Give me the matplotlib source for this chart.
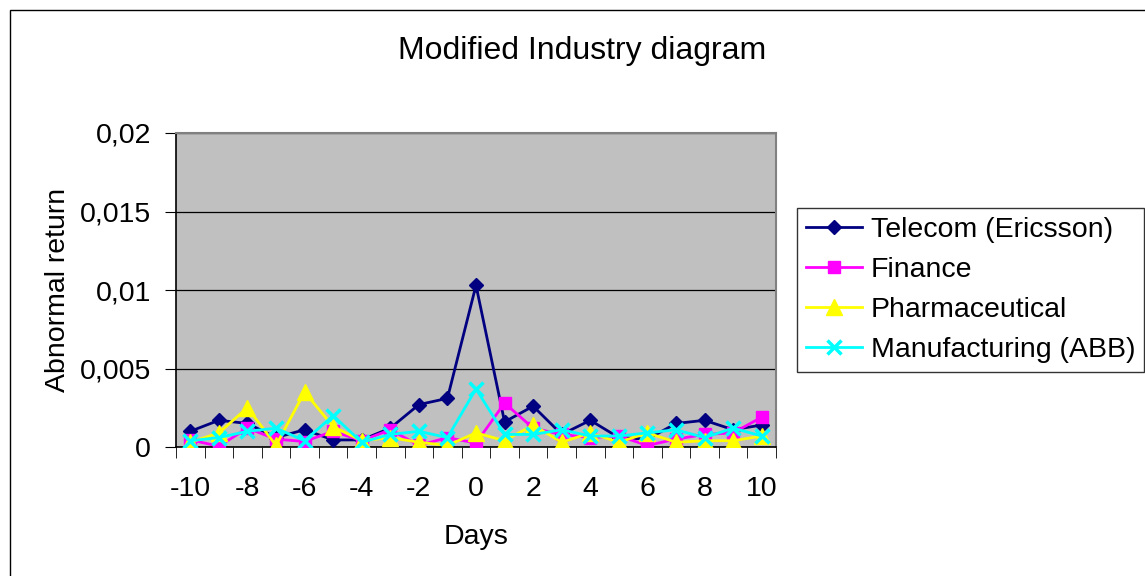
import numpy as np
import matplotlib.pyplot as plt
from matplotlib.patches import Rectangle
from matplotlib.ticker import FuncFormatter

days = list(range(-10, 11))
telecom = [0.0010, 0.0017, 0.0015, 0.0006, 0.0011, 0.00045, 0.00045, 0.0012, 0.0027, 0.0031,
           0.0103, 0.0016, 0.0026, 0.0008, 0.0017, 0.0006, 0.0005, 0.0015, 0.0017, 0.0011, 0.0014]
finance = [0.00045, 0.00005, 0.0012, 0.0005, 0.00035, 0.0010, 0.0004, 0.0011, 0.0001, 0.0006,
           0.00025, 0.0028, 0.0012, 0.0008, 0.0006, 0.0007, 0.0001, 0.0005, 0.0008, 0.0009, 0.0019]
pharma = [0.0003, 0.0009, 0.0025, 0.0001, 0.0035, 0.0013, 0.0004, 0.0006, 0.0003, 0.0001,
          0.0009, 0.0004, 0.0014, 0.0003, 0.0009, 0.0003, 0.0009, 0.0003, 0.0004, 0.0004, 0.0007]
manuf = [0.0004, 0.0006, 0.0010, 0.0012, 0.0004, 0.0020, 0.0003, 0.0008, 0.0010, 0.0006,
         0.0037, 0.0008, 0.0008, 0.0011, 0.0007, 0.0007, 0.0009, 0.0011, 0.0006, 0.0012, 0.0007]

plt.rcParams['font.family'] = ['Liberation Sans', 'DejaVu Sans']
plt.rcParams['axes.unicode_minus'] = False

fig = plt.figure(figsize=(11.45, 5.76), dpi=100)
fig.patches.append(Rectangle((10 / 1145, -0.1), 1.2, 1 - 10 / 576 + 0.1, transform=fig.transFigure,
                             fill=False, edgecolor='black', linewidth=1.0))

ax = fig.add_axes([176 / 1145, 1 - 447 / 576, 600 / 1145, 314 / 576])
ax.set_facecolor('#C0C0C0')

ax.plot(days, telecom, color='#000080', marker='D', markersize=7.5, lw=2, label='Telecom (Ericsson)', zorder=3)
ax.plot(days, finance, color='#FF00FF', marker='s', markersize=8.5, lw=2, label='Finance', zorder=3)
ax.plot(days, pharma, color='#FFFF00', marker='^', markersize=11, lw=2, label='Pharmaceutical', zorder=3)
ax.plot(days, manuf, color='#00FFFF', marker='x', markersize=10, mew=2.5, lw=2,
        label='Manufacturing (ABB)', zorder=3)

ax.set_xlim(-10.5, 10.5)
ax.set_ylim(0, 0.02)
ax.set_yticks([0, 0.005, 0.01, 0.015, 0.02])
ax.yaxis.set_major_formatter(FuncFormatter(lambda v, p: ('%g' % v).replace('.', ',')))
ax.set_xticks(range(-10, 11, 2))
ax.set_xticks(np.arange(-10.5, 11, 1), minor=True)
ax.tick_params(axis='x', which='major', length=0, pad=21, labelsize=20.5)
ax.tick_params(axis='x', which='minor', length=8, direction='out', color='black')
ax.tick_params(axis='y', length=8, direction='out', pad=10, labelsize=20.5)
ax.grid(axis='y', color='black', lw=0.9)
ax.set_axisbelow(True)
for s in ['top', 'right']:
    ax.spines[s].set_color('#808080')
    ax.spines[s].set_linewidth(1.5)
ax.spines['left'].set_linewidth(1.2)
ax.spines['bottom'].set_linewidth(1.2)

ax.set_xlabel('Days', fontsize=20.5, labelpad=16)
ax.set_ylabel('Abnormal return', fontsize=20.5, labelpad=6)
fig.text(582 / 1145, 1 - 51 / 576, 'Modified Industry diagram', fontsize=23, ha='center', va='center')

leg = fig.legend(loc='upper left', bbox_to_anchor=(797 / 1145, 1 - 208 / 576), fontsize=20.5,
                 frameon=True, fancybox=False, edgecolor='black', handlelength=2.0,
                 borderpad=0.3, labelspacing=0.5, handletextpad=0.3, borderaxespad=0)
leg.get_frame().set_linewidth(1.0)

fig.savefig('out.png', dpi=100)
